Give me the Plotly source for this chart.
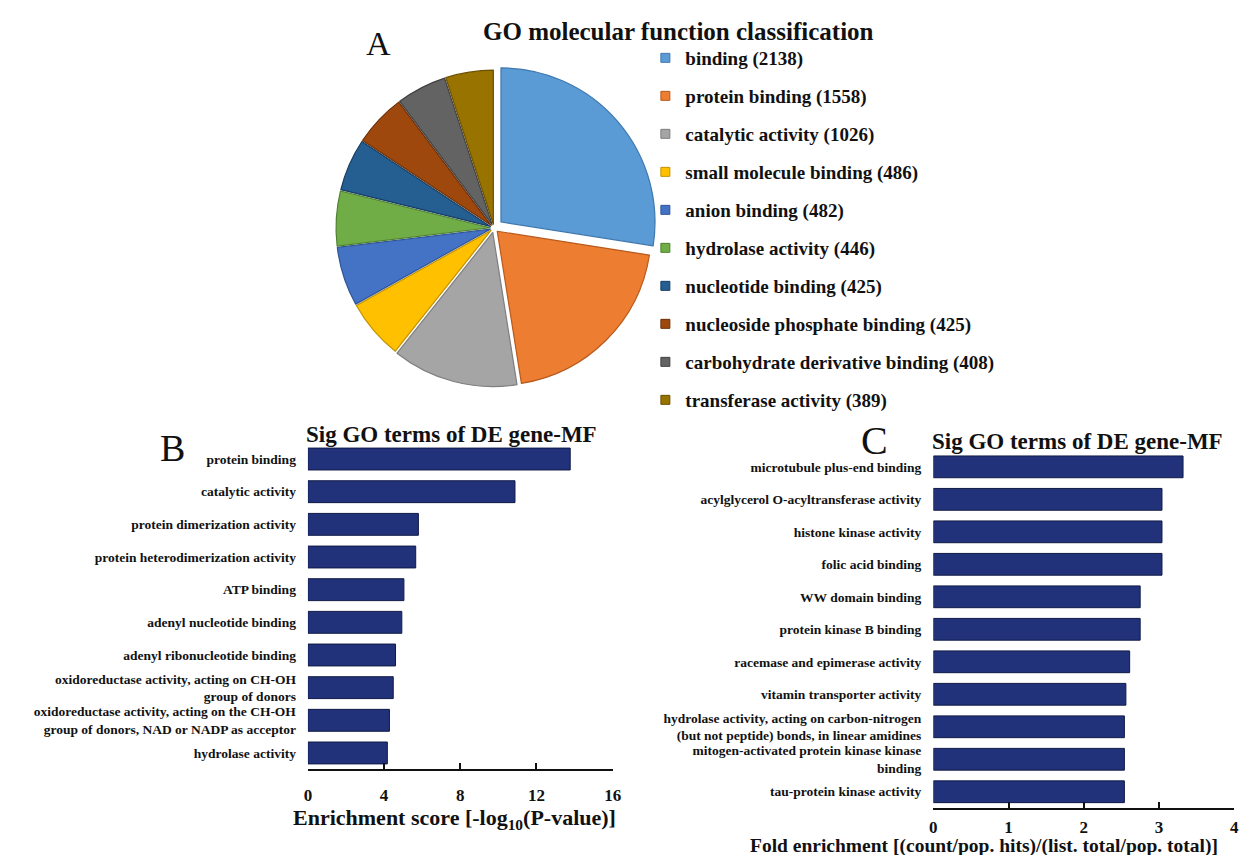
import plotly.graph_objects as go

# ---------------- data ----------------
pie_labels = ["binding", "protein binding", "catalytic activity", "small molecule binding",
              "anion binding", "hydrolase activity", "nucleotide binding",
              "nucleoside phosphate binding", "carbohydrate derivative binding",
              "transferase activity"]
pie_counts = [2138, 1558, 1026, 486, 482, 446, 425, 425, 408, 389]
pie_colors = ["#5B9BD5", "#ED7D31", "#A5A5A5", "#FFC000", "#4472C4",
              "#70AD47", "#255E91", "#9E480E", "#636363", "#997300"]
pie_edges = ["#3F78AE", "#B85A1C", "#7E7E7E", "#C49000", "#2F5597",
             "#4E8030", "#173E62", "#6E3008", "#404040", "#6B5000"]
pie_pull = [0.06, 0.03, 0.03, 0.025, 0.025, 0.025, 0.025, 0.025, 0.025, 0.025]

b_terms = ["protein binding", "catalytic activity", "protein dimerization activity",
           "protein heterodimerization activity", "ATP binding", "adenyl nucleotide binding",
           "adenyl ribonucleotide binding",
           "oxidoreductase activity, acting on CH-OH<br>group of donors",
           "oxidoreductase activity, acting on the CH-OH<br>group of donors, NAD or NADP as acceptor",
           "hydrolase activity"]
b_scores = [13.77, 10.87, 5.80, 5.66, 5.04, 4.93, 4.60, 4.48, 4.28, 4.17]
b_ticks = [0, 4, 8, 12, 16]

c_terms = ["microtubule plus-end binding", "acylglycerol O-acyltransferase activity",
           "histone kinase activity", "folic acid binding", "WW domain binding",
           "protein kinase B binding", "racemase and epimerase activity",
           "vitamin transporter activity",
           "hydrolase activity, acting on carbon-nitrogen<br>(but not peptide) bonds, in linear amidines",
           "mitogen-activated protein kinase kinase<br>binding",
           "tau-protein kinase activity"]
c_fold = [3.32, 3.04, 3.04, 3.04, 2.75, 2.75, 2.61, 2.56, 2.54, 2.54, 2.54]
c_ticks = [0, 1, 2, 3, 4]

SERIF = "Liberation Serif"
BAR = "#21327A"
BAR_EDGE = "#101A45"
W, H = 1253, 855

def px(x):
    return x / W

def py(y):
    return 1 - y / H

fig = go.Figure()

# ---------------- pie (A) ----------------
fig.add_trace(go.Pie(
    labels=pie_labels, values=pie_counts, sort=False, direction="clockwise",
    rotation=0, pull=pie_pull, textinfo="none", hoverinfo="label+value",
    marker=dict(colors=pie_colors, line=dict(color=pie_edges, width=1.2)),
    domain=dict(x=[px(322), px(652)], y=[py(385), py(55)]),
    showlegend=False,
))

# legend entries for the pie (one group each so spacing can be set)
for lab, cnt, col, edge in zip(pie_labels, pie_counts, pie_colors, pie_edges):
    fig.add_trace(go.Scatter(
        x=[None], y=[None], mode="markers", name=f"{lab} ({cnt})",
        legendgroup=lab, xaxis="x3", yaxis="y3",
        marker=dict(symbol="square", size=9, color=col, line=dict(color=edge, width=1)),
    ))

# ---------------- bars (B) ----------------
fig.add_trace(go.Bar(
    x=b_scores, y=b_terms, orientation="h", width=0.67,
    marker=dict(color=BAR, line=dict(color=BAR_EDGE, width=1)),
    xaxis="x", yaxis="y", showlegend=False,
))

# ---------------- bars (C) ----------------
fig.add_trace(go.Bar(
    x=c_fold, y=c_terms, orientation="h", width=0.67,
    marker=dict(color=BAR, line=dict(color=BAR_EDGE, width=1)),
    xaxis="x2", yaxis="y2", showlegend=False,
))

tickfont_x = dict(family=SERIF, size=17, color="#111", weight="bold")
tickfont_y = dict(family=SERIF, size=13.5, color="#111", weight="bold")

fig.update_layout(
    width=W, height=H, autosize=False,
    margin=dict(l=0, r=0, t=0, b=0),
    paper_bgcolor="white", plot_bgcolor="white",
    font=dict(family=SERIF, color="#111"),
    showlegend=True,
    legend=dict(
        x=px(640), y=py(31), xanchor="left", yanchor="top",
        font=dict(family=SERIF, size=19, color="#111", weight="bold"),
        tracegroupgap=10.3, bgcolor="rgba(0,0,0,0)", itemclick=False,
    ),
    xaxis=dict(
        domain=[px(299), px(607)], range=[0, 16], tickvals=b_ticks,
        showline=True, linecolor="#111", linewidth=2, ticks="inside",
        ticklen=6, tickwidth=2, tickcolor="#111", showgrid=False, zeroline=False,
        tickfont=tickfont_x, ticklabelstandoff=9, anchor="y", fixedrange=True,
    ),
    yaxis=dict(
        domain=[py(761.3), py(434.7)], range=[9.5, -0.5], showgrid=False,
        zeroline=False, showline=False, ticks="", tickfont=tickfont_y,
        ticklabelstandoff=11, anchor="x", fixedrange=True,
    ),
    xaxis2=dict(
        domain=[px(931), px(1235)], range=[0, 4], tickvals=c_ticks,
        showline=True, linecolor="#111", linewidth=2, ticks="inside",
        ticklen=6, tickwidth=2, tickcolor="#111", showgrid=False, zeroline=False,
        tickfont=tickfont_x, ticklabelstandoff=3, anchor="y2", fixedrange=True,
    ),
    yaxis2=dict(
        domain=[py(800), py(442.6)], range=[10.5, -0.5], showgrid=False,
        zeroline=False, showline=False, ticks="", tickfont=tickfont_y,
        ticklabelstandoff=11, anchor="x2", fixedrange=True,
    ),
    xaxis3=dict(visible=False, domain=[0.99, 1.0]),
    yaxis3=dict(visible=False, domain=[0.99, 1.0], anchor="x3"),
)

def note(text, x, y, size, bold=True):
    fig.add_annotation(
        text=f"<b>{text}</b>" if bold else text, x=px(x), y=py(y),
        xref="paper", yref="paper", xanchor="center", yanchor="middle",
        showarrow=False, font=dict(family=SERIF, size=size, color="#111"),
    )

note("GO molecular function classification", 673, 24, 25)
note("A", 370, 35, 34, bold=False)
note("Sig GO terms of DE gene-MF", 444, 426, 23)
note("B", 162, 440, 38, bold=False)
note("Sig GO terms of DE gene-MF", 1077, 434, 23)
note("C", 872, 432, 40, bold=False)
note("Enrichment score [-log<sub>10</sub>(P-value)]", 447, 811, 22)
note("Fold enrichment [(count/pop. hits)/(list. total/pop. total)]", 982, 838, 19.5)

fig.write_html("out.html")
